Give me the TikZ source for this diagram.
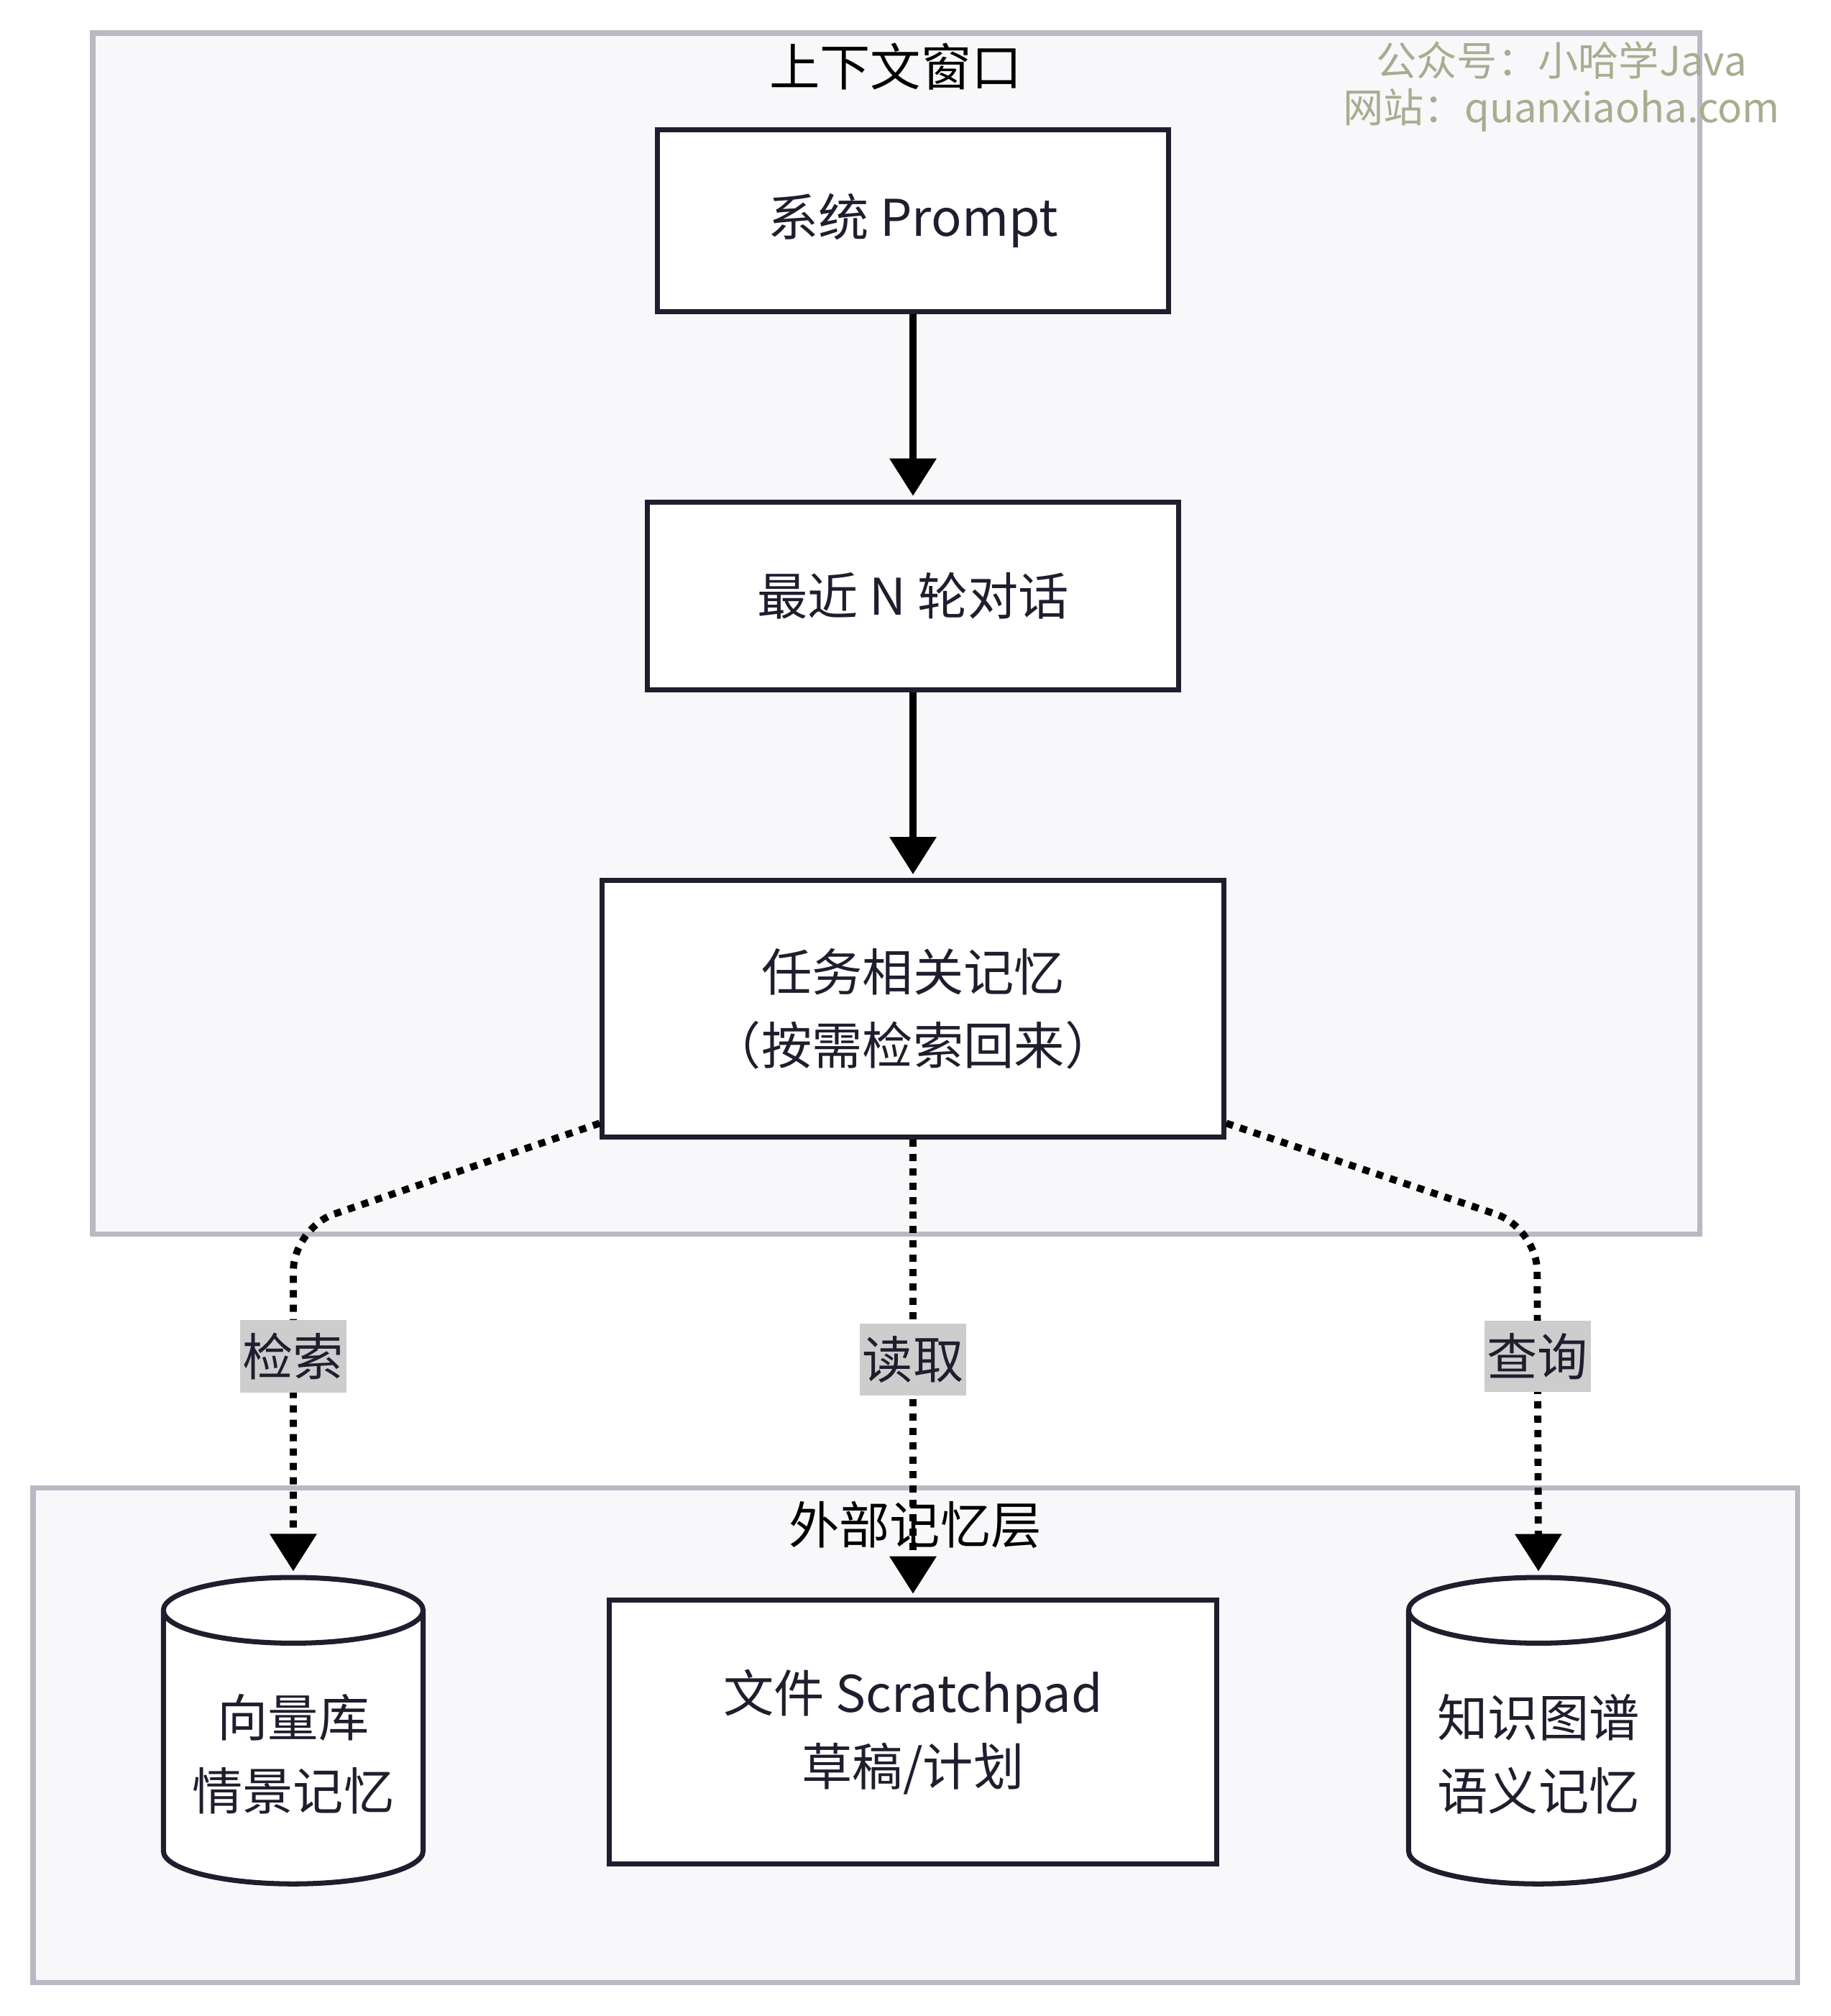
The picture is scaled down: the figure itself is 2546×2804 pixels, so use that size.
\documentclass[tikz,border=0pt]{standalone}
\usepackage{fontspec}
\setmainfont{Noto Sans CJK SC}
\usetikzlibrary{positioning}
\usetikzlibrary{shapes.geometric}
\usetikzlibrary{arrows.meta}

\definecolor{ink}{HTML}{1E1E2E}
\definecolor{frame}{HTML}{B9B9C6}
\definecolor{pane}{HTML}{F8F8FA}
\definecolor{tagfill}{HTML}{CDCDCD}
\definecolor{wmcolor}{HTML}{A9AC90}

\tikzset{
  block/.style={draw=ink, fill=white, line width=2pt, text=ink, align=center},
  store/.style={cylinder, shape border rotate=90, aspect=0.3, draw=ink, fill=white,
    line width=2pt, text=ink, align=center, minimum width=3.61cm, minimum height=4.26cm},
  layer/.style={draw=frame, fill=pane, line width=2pt},
  flow/.style={-{Triangle[width=0.63cm,length=0.52cm]}, line width=2.8pt, draw=black, shorten >=0.05cm},
  fetch/.style={flow, dash pattern=on 0.1cm off 0.1cm, rounded corners=0.6cm},
  edgetag/.style={fill=tagfill, text=ink, inner xsep=1pt, inner ysep=5pt, sharp corners},
  wmark/.style={text=wmcolor, align=center, font=\fontsize{16}{18.5}\selectfont},
}

\begin{document}
\begin{tikzpicture}[x=0.01cm, y=-0.01cm, node distance=2.58cm, font=\fontsize{20}{29}\selectfont]
  \useasboundingbox (0,0) rectangle (2546,2804);
  % Containers
  \draw [layer] (129,46) rectangle (2364,1716);
  \draw [layer] (46,2069) rectangle (2500,2757);
  \node (ctxtitle) at (1246,93) {上下文窗口};
  \node (exttitle) at (1273,2121) {外部记忆层};
  \node [wmark] (wm) at (2172,121) {公众号：小哈学Java\\网站：quanxiaoha.com};

  % Place nodes
  \node [block, minimum width=7.11cm, minimum height=2.52cm] (prompt) at (1270,307) {系统 Prompt};
  \node [block, minimum width=7.39cm, minimum height=2.61cm, below=of prompt] (recent) {最近 N 轮对话};
  \node [block, minimum width=8.64cm, minimum height=3.57cm, below=of recent] (task) {任务相关记忆\\（按需检索回来）};
  \node [block, minimum width=8.44cm, minimum height=3.67cm, below=6.36cm of task] (scratch) {文件 Scratchpad\\草稿/计划};
  \node [store, left=2.52cm of scratch, yshift=-0.31cm] (vecdb) {向量库\\情景记忆};
  \node [store, right=2.6cm of scratch, yshift=-0.31cm] (graph) {知识图谱\\语义记忆};

  % Connectors
  \draw [flow] (prompt) -- (recent);
  \draw [flow] (recent) -- (task);
  \coordinate (lbend) at (408,1708);
  \coordinate (rbend) at (2138,1708);
  \draw [fetch] ([yshift=0.23cm]task.south west) -- (lbend) -- node [edgetag, pos=0.37] (q1) {检索} (vecdb.north);
  \draw [fetch] (task) -- node [edgetag, pos=0.48] (q2) {读取} (scratch);
  \draw [fetch] ([yshift=0.23cm]task.south east) -- (rbend) -- node [edgetag, pos=0.37] (q3) {查询} (graph.north);
\end{tikzpicture}
\end{document}
